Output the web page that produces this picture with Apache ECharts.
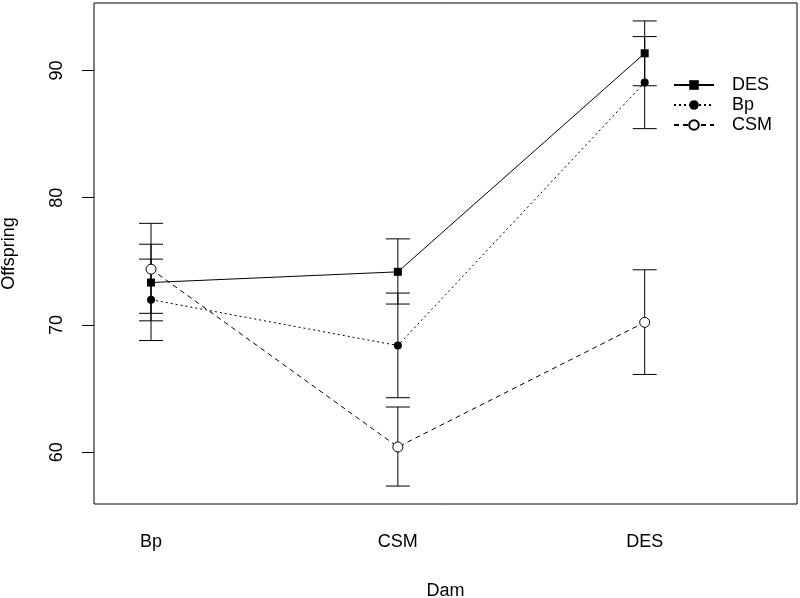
<!DOCTYPE html>
<html><head><meta charset="utf-8">
<script src="https://cdn.jsdelivr.net/npm/echarts@6/dist/echarts.min.js"></script>
<style>html,body{margin:0;padding:0;background:#fff}#c{width:800px;height:598px}</style>
</head><body><div id="c"></div>
<script>
var categories = ['Bp', 'CSM', 'DES'];
var yTicks = [60, 70, 80, 90];
var desMean = [73.34, 74.18, 91.35];
var desLow  = [70.33, 71.65, 88.80];
var desHigh = [76.35, 76.77, 93.89];
var bpMean  = [71.99, 68.39, 89.06];
var bpLow   = [68.78, 64.29, 85.43];
var bpHigh  = [75.18, 72.51, 92.66];
var csmMean = [74.39, 60.42, 70.21];
var csmLow  = [70.92, 57.35, 66.12];
var csmHigh = [77.99, 63.56, 74.34];

var FONT = 'Liberation Sans, Arial, Helvetica, sans-serif';
function pts(m){ return m.map(function(v,i){ return [i+1, v]; }); }
function bars(lo, hi){ return lo.map(function(v,i){ return [i+1, v, hi[i]]; }); }
function errSeries(lo, hi){
  return {
    type: 'custom', silent: true, z: 1,
    data: bars(lo, hi),
    renderItem: function(params, api){
      var x = api.value(0);
      var a = api.coord([x, api.value(1)]);
      var b = api.coord([x, api.value(2)]);
      var w = 12;
      var st = {stroke: '#000', lineWidth: 1};
      return {type: 'group', children: [
        {type: 'line', shape: {x1: a[0], y1: a[1], x2: b[0], y2: b[1]}, style: st},
        {type: 'line', shape: {x1: a[0]-w, y1: a[1], x2: a[0]+w, y2: a[1]}, style: st},
        {type: 'line', shape: {x1: b[0]-w, y1: b[1], x2: b[0]+w, y2: b[1]}, style: st}
      ]};
    }
  };
}
var chart = echarts.init(document.getElementById('c'), null, {renderer: 'canvas'});
chart.setOption({
  animation: false,
  backgroundColor: '#fff',
  textStyle: {fontFamily: FONT},
  grid: {left: 94, right: 3, top: 3, bottom: 94, show: true, borderColor: '#000', borderWidth: 1,
    containLabel: false, outerBoundsMode: 'none'},
  legend: {
    orient: 'vertical', left: 673, top: 76, padding: 0,
    itemWidth: 40, itemHeight: 12, itemGap: 2,
    textStyle: {fontSize: 18, color: '#000', fontFamily: FONT, padding: [0,0,0,13]},
    data: ['DES', 'Bp', 'CSM']
  },
  xAxis: {
    type: 'value', min: 0.769, max: 3.617,
    axisLine: {show: false}, axisTick: {show: false}, splitLine: {show: false},
    axisLabel: {customValues: [1,2,3], formatter: function(v){ return categories[Math.round(v)-1] || ''; },
      fontSize: 18, color: '#000', margin: 29, fontFamily: FONT},
    name: 'Dam', nameLocation: 'middle', nameGap: 78,
    nameTextStyle: {fontSize: 18, color: '#000', fontFamily: FONT}
  },
  yAxis: {
    type: 'value', min: 55.94, max: 95.3,
    axisLine: {show: false}, splitLine: {show: false},
    axisTick: {show: true, length: 12, customValues: yTicks, lineStyle: {color: '#000'}},
    axisLabel: {customValues: yTicks, rotate: 90, fontSize: 18, color: '#000', margin: 28, fontFamily: FONT},
    name: 'Offspring', nameLocation: 'middle', nameGap: 76, nameRotate: 90,
    nameTextStyle: {fontSize: 18, color: '#000', fontFamily: FONT}
  },
  series: [
    errSeries(desLow, desHigh),
    errSeries(bpLow, bpHigh),
    errSeries(csmLow, csmHigh),
    {name: 'DES', type: 'line', z: 3, data: pts(desMean), symbol: 'rect', symbolSize: 8,
      lineStyle: {color: '#000', width: 1, type: 'solid'}, itemStyle: {color: '#000', borderColor: '#000', borderWidth: 0}},
    {name: 'Bp', type: 'line', z: 3, data: pts(bpMean), symbol: 'circle', symbolSize: 8,
      lineStyle: {color: '#000', width: 1, type: [2, 3]}, itemStyle: {color: '#000', borderColor: '#000', borderWidth: 0}},
    {name: 'CSM', type: 'line', z: 3, data: pts(csmMean), symbol: 'circle', symbolSize: 10,
      lineStyle: {color: '#000', width: 1, type: [5, 4]}, itemStyle: {color: '#fff', borderColor: '#000', borderWidth: 1}}
  ]
});
</script></body></html>
